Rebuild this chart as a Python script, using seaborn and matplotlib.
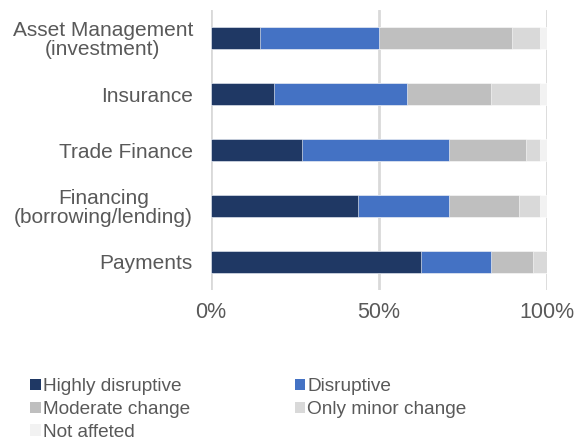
import pandas as pd
import numpy as np
import matplotlib
matplotlib.use("Agg")
import matplotlib.pyplot as plt
from matplotlib.patches import Patch
import seaborn as sns

# --- data (percent of respondents) ---
categories = ["Asset Management\n(investment)", "Insurance", "Trade Finance",
              "Financing\n(borrowing/lending)", "Payments"]
highly_disruptive = [14.6, 18.8, 27.1, 43.8, 62.5]
disruptive = [35.4, 39.6, 43.8, 27.1, 20.8]
moderate_change = [39.6, 25.0, 22.9, 20.8, 12.5]
only_minor_change = [8.3, 14.6, 4.2, 6.3, 4.2]
not_affected = [2.1, 2.0, 2.0, 2.0, 0.0]

series_names = ["Highly disruptive", "Disruptive", "Moderate change",
                "Only minor change", "Not affeted"]
colors = ["#1F3864", "#4472C4", "#BFBFBF", "#D9D9D9", "#F2F2F2"]

df = pd.DataFrame({
    "category": categories,
    series_names[0]: highly_disruptive,
    series_names[1]: disruptive,
    series_names[2]: moderate_change,
    series_names[3]: only_minor_change,
    series_names[4]: not_affected,
})

# cumulative sums so that the stacked bars can be drawn back to front
cum = df[series_names].cumsum(axis=1)
cum["category"] = df["category"]

sns.set_style("white")
plt.rcParams["font.family"] = ["Liberation Sans", "DejaVu Sans"]

fig = plt.figure(figsize=(5.78, 4.4), dpi=100)
ax = fig.add_axes([0.365, 0.341, 0.581, 0.636])

for name, col in reversed(list(zip(series_names, colors))):
    sns.barplot(data=cum, x=name, y="category", order=categories,
                color=col, saturation=1, orient="h", width=0.4, errorbar=None,
                edgecolor="white", linewidth=0.4, ax=ax)

ax.set_xlim(0, 100)
ax.set_ylim(4.5, -0.5)
ax.set_xticks([0, 50, 100])
ax.set_xticklabels(["0%", "50%", "100%"])
ax.set_xlabel("")
ax.set_ylabel("")
ax.tick_params(axis="x", length=0, pad=9, labelsize=15.5, labelcolor="#595959")
ax.tick_params(axis="y", length=0, pad=13, labelsize=15, labelcolor="#595959")
for lab in ax.get_yticklabels():
    lab.set_linespacing(1.0)
    lab.set_multialignment("center")

ax.xaxis.grid(True, color="#D9D9D9", linewidth=2)
ax.set_axisbelow(True)
for s in ax.spines.values():
    s.set_visible(False)

# legend: column-major order to get row-wise layout like the source
order = [0, 2, 4, 1, 3]
handles = [Patch(facecolor=colors[i], edgecolor="none") for i in order]
labels = [series_names[i] for i in order]
fig.legend(handles, labels, ncol=2, loc="upper left",
           bbox_to_anchor=(0.052, 0.14), frameon=False,
           fontsize=13.7, labelcolor="#595959",
           handlelength=0.55, handleheight=0.55, handletextpad=0.12,
           columnspacing=5.5, labelspacing=0.3, borderpad=0, borderaxespad=0)

fig.savefig("out.png", dpi=100)
